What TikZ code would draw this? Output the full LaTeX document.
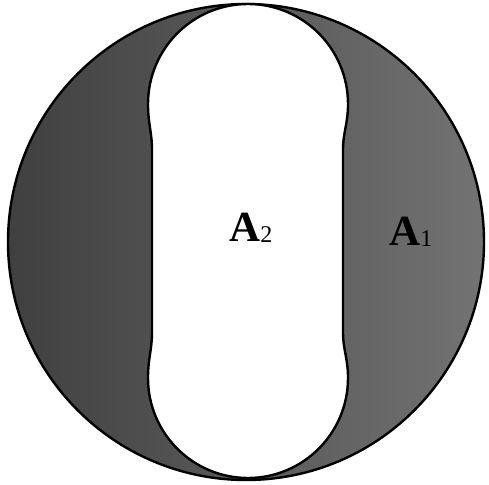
\documentclass[tikz,border=0pt]{standalone}
\usepackage{fontspec}
\setmainfont{Liberation Serif}
\begin{document}
\begin{tikzpicture}[x=1pt,y=-1pt,
  outline/.style={line width=2.4pt,draw=black},
  lbl/.style={inner sep=0pt,anchor=base west,font=\fontsize{43}{45}\selectfont\bfseries}]
\useasboundingbox (0,0) rectangle (489,484);
\fill[white] (0,0) rectangle (489,484);
% outer disc
\shade[left color=black!75,right color=black!55,outline] (246,242) circle[radius=238];
% inner white stadium
\path[fill=white,outline] (248,4) .. controls (192.8,4) and (148,48.8) .. (148,104)
  .. controls (148,124) and (152,132) .. (152,150) -- (152,332)
  .. controls (152,350) and (148,358) .. (148,378)
  .. controls (148,433.2) and (192.8,478) .. (248,478)
  .. controls (303.2,478) and (348,433.2) .. (348,378)
  .. controls (348,358) and (343,350) .. (343,332) -- (343,150)
  .. controls (343,132) and (348,124) .. (348,104)
  .. controls (348,48.8) and (303.2,4) .. (248,4) -- cycle;
\node[lbl] (a2) at (229,241) {A\raisebox{-1pt}{\mdseries\fontsize{24}{25}\selectfont 2}};
\node[lbl] (a1) at (389,245) {A\raisebox{-1pt}{\mdseries\fontsize{24}{25}\selectfont 1}};
\end{tikzpicture}
\end{document}
